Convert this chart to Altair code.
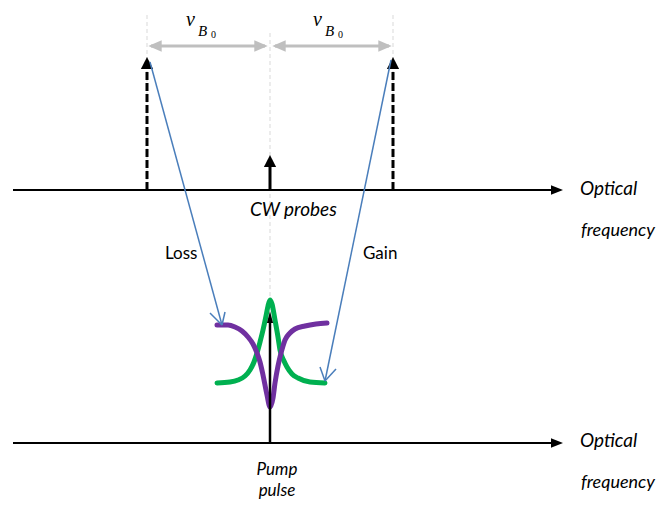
import altair as alt
import pandas as pd

# ---------------- diagram data (positions, in its pixels) ----------------
axis_y = [190, 443]
axis_x_start = [13, 13]
axis_x_end = [553, 553]
axis_head_x = [557, 557]

probe_x = [147, 270, 393]
probe_base_y = [190, 190, 190]
probe_top_y = [68, 166, 68]
probe_head_y = [63, 161, 63]
probe_kind = ["dashed", "solid", "dashed"]

guide_x = [147, 270, 393]
guide_top = [15, 33, 15]
guide_bottom = [190, 443, 190]

span_left = [151, 275]
span_right = [265, 389]
span_y = [46, 46]
span_head_left_x = [155, 279]
span_head_right_x = [261, 385]

blue_x1 = [150, 391, 222, 222, 325, 325]
blue_y1 = [62, 60, 325, 325, 381, 381]
blue_x2 = [222, 325, 210, 225, 320, 336]
blue_y2 = [325, 381, 313, 312, 367, 369]

pump_x = [270]
pump_base_y = [443]
pump_top_y = [322]
pump_head_y = [317]

purple_x = [217, 228, 235, 242, 248, 253, 257, 260, 263, 267, 270, 273, 275, 278, 280, 283, 285, 290, 295, 305, 316, 327]
purple_y = [325, 325, 327, 331, 337, 344, 353, 362, 375, 395, 407, 398, 383, 366, 357, 346, 340, 333, 329, 326, 324, 323]

green_x = [217, 230, 238, 245, 250, 254, 257, 260, 263, 266, 268, 270, 272, 275, 278, 280, 284, 287, 292, 298, 310, 325]
green_y = [383, 382, 380, 376, 370, 362, 353, 342, 330, 316, 306, 300, 304, 320, 337, 350, 361, 367, 374, 378, 382, 383]

italic_text = ["Optical", "Optical", "CW probes"]
italic_x = [580, 580, 250]
italic_y = [195, 447, 216]

freq_text = ["frequency", "frequency"]
freq_x = [581, 581]
freq_y = [236, 488]

pump_text = ["Pump", "pulse"]
pump_text_x = [277, 277]
pump_text_y = [475, 496]

plain_text = ["Loss", "Gain"]
plain_x = [165, 363]
plain_y = [259, 259]

nu_x = [186, 313]
nu_y = [26, 26]
sub_b_x = [198, 325]
sub_b_y = [36, 36]
sub_0_x = [211, 338]
sub_0_y = [38, 38]

# ---------------- chart ----------------
W, H = 651, 492
xs = alt.Scale(domain=[8, 8 + W], nice=False, zero=False)
ys = alt.Scale(domain=[8, 8 + H], nice=False, zero=False, reverse=True)


def X(f="x"):
    return alt.X(f"{f}:Q", scale=xs, axis=None)


def Y(f="y"):
    return alt.Y(f"{f}:Q", scale=ys, axis=None)


BLACK = "#000000"
GREY = "#bfbfbf"
BLUE = "#4a7ebb"

# guides (faint dashed verticals)
guides = alt.Chart(pd.DataFrame({"x": guide_x, "y": guide_top, "y2": guide_bottom})).mark_rule(
    color="#d9d9d9", strokeWidth=1, strokeDash=[4, 3]
).encode(x=X(), y=Y(), y2="y2:Q")

# frequency axes
axes_df = pd.DataFrame({"x": axis_x_start, "x2": axis_x_end, "y": axis_y, "hx": axis_head_x})
axes = alt.Chart(axes_df).mark_rule(color=BLACK, strokeWidth=2).encode(x=X(), x2="x2:Q", y=Y())
axes_heads = alt.Chart(axes_df).mark_point(
    shape="M1,0L-1,-0.8L-1,0.8Z", filled=True, color=BLACK, opacity=1, size=144
).encode(x=X("hx"), y=Y())

# probe arrows
probe_df = pd.DataFrame({"x": probe_x, "y": probe_base_y, "y2": probe_top_y, "hy": probe_head_y, "kind": probe_kind})
probes_dashed = alt.Chart(probe_df).transform_filter("datum.kind == 'dashed'").mark_rule(
    color=BLACK, strokeWidth=3, strokeDash=[8, 3]
).encode(x=X(), y=Y(), y2="y2:Q")
probes_solid = alt.Chart(probe_df).transform_filter("datum.kind == 'solid'").mark_rule(
    color=BLACK, strokeWidth=3
).encode(x=X(), y=Y(), y2="y2:Q")
probe_heads = alt.Chart(probe_df).mark_point(
    shape="M0,-1L1,1L-1,1Z", filled=True, color=BLACK, opacity=1, size=150
).encode(x=X(), y=Y("hy"))

# spacing arrows (grey)
span_df = pd.DataFrame({"x": span_left, "x2": span_right, "y": span_y,
                        "lx": span_head_left_x, "rx": span_head_right_x})
spans = alt.Chart(span_df).mark_rule(color=GREY, strokeWidth=3).encode(x=X(), x2="x2:Q", y=Y())
span_lh = alt.Chart(span_df).mark_point(
    shape="M-1,0L1,-0.85L1,0.85Z", filled=True, color=GREY, opacity=1, size=180
).encode(x=X("lx"), y=Y())
span_rh = alt.Chart(span_df).mark_point(
    shape="M1,0L-1,-0.85L-1,0.85Z", filled=True, color=GREY, opacity=1, size=180
).encode(x=X("rx"), y=Y())

# blue transfer arrows
blue = alt.Chart(pd.DataFrame({"x": blue_x1, "y": blue_y1, "x2": blue_x2, "y2": blue_y2})).mark_rule(
    color=BLUE, strokeWidth=1.5
).encode(x=X(), y=Y(), x2="x2:Q", y2="y2:Q")

# gain / loss curves
curves_df = pd.concat([
    pd.DataFrame({"x": green_x, "y": green_y, "c": "green", "o": range(len(green_x))}),
    pd.DataFrame({"x": purple_x, "y": purple_y, "c": "purple", "o": range(len(purple_x))}),
])
green_line = alt.Chart(curves_df).transform_filter("datum.c == 'green'").mark_line(
    color="#00b050", strokeWidth=5, interpolate="monotone", strokeCap="round"
).encode(x=X(), y=Y(), order="o:Q")
purple_line = alt.Chart(curves_df).transform_filter("datum.c == 'purple'").mark_line(
    color="#7030a0", strokeWidth=5, interpolate="monotone", strokeCap="round"
).encode(x=X(), y=Y(), order="o:Q")

# pump arrow
pump_df = pd.DataFrame({"x": pump_x, "y": pump_base_y, "y2": pump_top_y, "hy": pump_head_y})
pump = alt.Chart(pump_df).mark_rule(color=BLACK, strokeWidth=2.5).encode(x=X(), y=Y(), y2="y2:Q")
pump_head = alt.Chart(pump_df).mark_point(
    shape="M0,-1L0.5,1L-0.5,1Z", filled=True, color=BLACK, opacity=1, size=150
).encode(x=X(), y=Y("hy"))

# texts
FONT = "Lato"
italic = alt.Chart(pd.DataFrame({"x": italic_x, "y": italic_y, "t": italic_text})).mark_text(
    align="left", baseline="alphabetic", font=FONT, fontStyle="italic", fontSize=19, color=BLACK
).encode(x=X(), y=Y(), text="t:N")
freq = alt.Chart(pd.DataFrame({"x": freq_x, "y": freq_y, "t": freq_text})).mark_text(
    align="left", baseline="alphabetic", font=FONT, fontStyle="italic", fontSize=18, color=BLACK
).encode(x=X(), y=Y(), text="t:N")
pump_lbl = alt.Chart(pd.DataFrame({"x": pump_text_x, "y": pump_text_y, "t": pump_text})).mark_text(
    align="center", baseline="alphabetic", font=FONT, fontStyle="italic", fontSize=17, color=BLACK
).encode(x=X(), y=Y(), text="t:N")
plain = alt.Chart(pd.DataFrame({"x": plain_x, "y": plain_y, "t": plain_text})).mark_text(
    align="left", baseline="alphabetic", font=FONT, fontSize=17, color=BLACK
).encode(x=X(), y=Y(), text="t:N")

SERIF = "Liberation Serif"
nu = alt.Chart(pd.DataFrame({"x": nu_x, "y": nu_y, "t": ["ν", "ν"]})).mark_text(
    align="left", baseline="alphabetic", font=SERIF, fontStyle="italic", fontSize=20, color=BLACK
).encode(x=X(), y=Y(), text="t:N")
sub_b = alt.Chart(pd.DataFrame({"x": sub_b_x, "y": sub_b_y, "t": ["B", "B"]})).mark_text(
    align="left", baseline="alphabetic", font=SERIF, fontStyle="italic", fontSize=15, color=BLACK
).encode(x=X(), y=Y(), text="t:N")
sub_0 = alt.Chart(pd.DataFrame({"x": sub_0_x, "y": sub_0_y, "t": ["0", "0"]})).mark_text(
    align="left", baseline="alphabetic", font=SERIF, fontSize=10, color=BLACK
).encode(x=X(), y=Y(), text="t:N")

chart = alt.layer(
    guides, spans, span_lh, span_rh,
    axes, axes_heads,
    probes_dashed, probes_solid, probe_heads,
    green_line, purple_line,
    pump, pump_head,
    blue,
    italic, freq, pump_lbl, plain, nu, sub_b, sub_0,
).properties(
    width=W, height=H, padding=0, autosize=alt.AutoSizeParams(type="none"),
    background="white",
).configure_view(stroke=None)

chart.save("out.html", embed_options={"renderer": "svg", "actions": False})
